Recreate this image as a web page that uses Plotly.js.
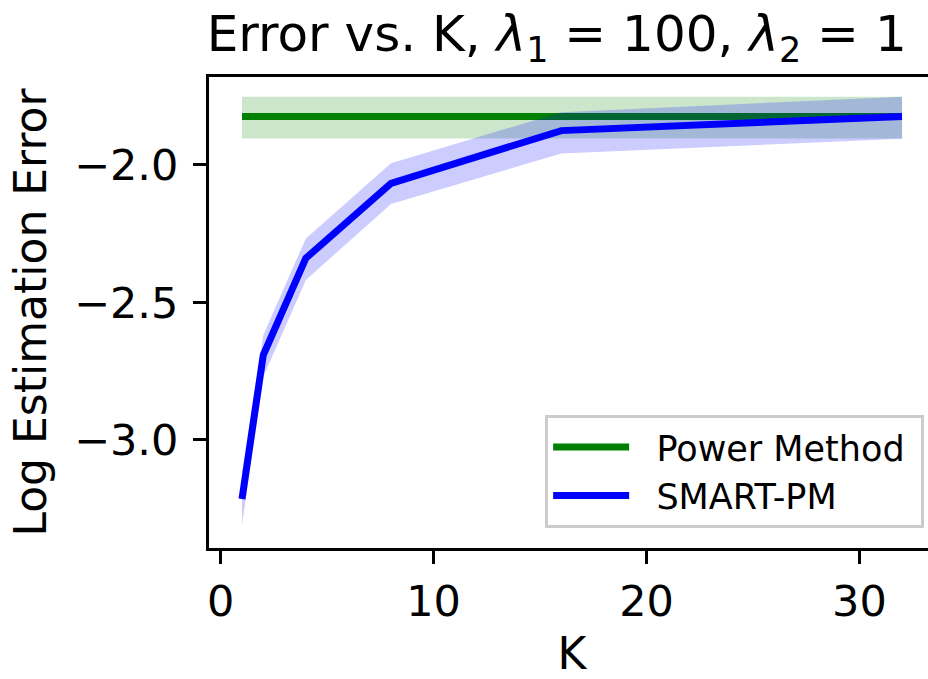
<!DOCTYPE html>
<html>
<head>
<meta charset="utf-8">
<script src="https://cdn.plot.ly/plotly-3.0.1.min.js"></script>
<style>
html, body { margin: 0; padding: 0; overflow: hidden; background: #fff; }
#chart { width: 940px; height: 679px; }
</style>
</head>
<body>
<div id="chart"></div>
<script>
// Data
const K = [1, 2, 4, 8, 16, 32];
const smartMean  = [-3.215, -2.691, -2.339, -2.067, -1.875, -1.824];
const smartUpper = [-3.120, -2.618, -2.267, -1.994, -1.808, -1.752];
const smartLower = [-3.310, -2.770, -2.418, -2.142, -1.958, -1.905];
const powerMean  = [-1.824, -1.824, -1.824, -1.824, -1.824, -1.824];
const powerUpper = [-1.752, -1.752, -1.752, -1.752, -1.752, -1.752];
const powerLower = [-1.904, -1.904, -1.904, -1.904, -1.904, -1.904];
const xTicks = [0, 10, 20, 30];
const yTicks = [-3.0, -2.5, -2.0];
const seriesNames = ['Power Method', 'SMART-PM'];

const pad = '\u00a0\u00a0';

const traces = [
  { x: K, y: powerLower, mode: 'lines', line: { width: 0, color: 'rgba(0,128,0,0)' }, showlegend: false, hoverinfo: 'skip' },
  { x: K, y: powerUpper, mode: 'lines', line: { width: 0, color: 'rgba(0,128,0,0)' }, fill: 'tonexty', fillcolor: 'rgba(0,128,0,0.2)', showlegend: false, hoverinfo: 'skip' },
  { x: K, y: powerMean, mode: 'lines', name: pad + seriesNames[0] + '\u00a0', line: { width: 7, color: '#008000' } },
  { x: K, y: smartLower, mode: 'lines', line: { width: 0, color: 'rgba(0,0,255,0)' }, showlegend: false, hoverinfo: 'skip' },
  { x: K, y: smartUpper, mode: 'lines', line: { width: 0, color: 'rgba(0,0,255,0)' }, fill: 'tonexty', fillcolor: 'rgba(0,0,255,0.2)', showlegend: false, hoverinfo: 'skip' },
  { x: K, y: smartMean, mode: 'lines', name: pad + seriesNames[1], line: { width: 7, color: '#0000ff' } }
];

const layout = {
  width: 940,
  height: 679,
  margin: { l: 209, r: 5, t: 77, b: 131 },
  paper_bgcolor: '#ffffff',
  plot_bgcolor: '#ffffff',
  font: { family: 'DejaVu Sans', color: '#000000', size: 43 },
  title: {
    text: 'Error vs. K, <i>λ</i><sub>1</sub> = 100, <i>λ</i><sub>2</sub> = 1',
    font: { family: 'DejaVu Sans', size: 50, color: '#000000' },
    x: 0.479, xref: 'paper', xanchor: 'center',
    y: 0.95, yref: 'container', yanchor: 'middle'
  },
  xaxis: {
    range: [-0.55, 33.55],
    tickvals: xTicks,
    ticktext: xTicks.map(v => String(v)),
    ticks: 'outside', ticklen: 13, tickwidth: 3, tickcolor: '#000',
    showline: true, linewidth: 3, linecolor: '#000', mirror: true,
    showgrid: false, zeroline: false,
    tickfont: { size: 43 },
    title: { text: 'K', font: { size: 44 }, standoff: 16 }
  },
  yaxis: {
    range: [-3.393, -1.68],
    tickvals: yTicks,
    ticktext: yTicks.map(v => '\u2212' + Math.abs(v).toFixed(1)),
    ticks: 'outside', ticklen: 13, tickwidth: 3, tickcolor: '#000',
    ticklabelstandoff: 6,
    showline: true, linewidth: 3, linecolor: '#000', mirror: true,
    showgrid: false, zeroline: false,
    tickfont: { size: 43 },
    title: { text: 'Log Estimation Error', font: { size: 44 }, standoff: 14 }
  },
  legend: {
    x: 0.463, y: 0.283, xanchor: 'left', yanchor: 'top',
    traceorder: 'normal',
    bgcolor: 'rgba(255,255,255,0.8)',
    bordercolor: '#cccccc', borderwidth: 3,
    font: { size: 35, family: 'DejaVu Sans' },
    itemwidth: 76,
    tracegroupgap: 0
  },
  showlegend: true
};

Plotly.newPlot('chart', traces, layout, { displayModeBar: false, staticPlot: true });
</script>
</body>
</html>
